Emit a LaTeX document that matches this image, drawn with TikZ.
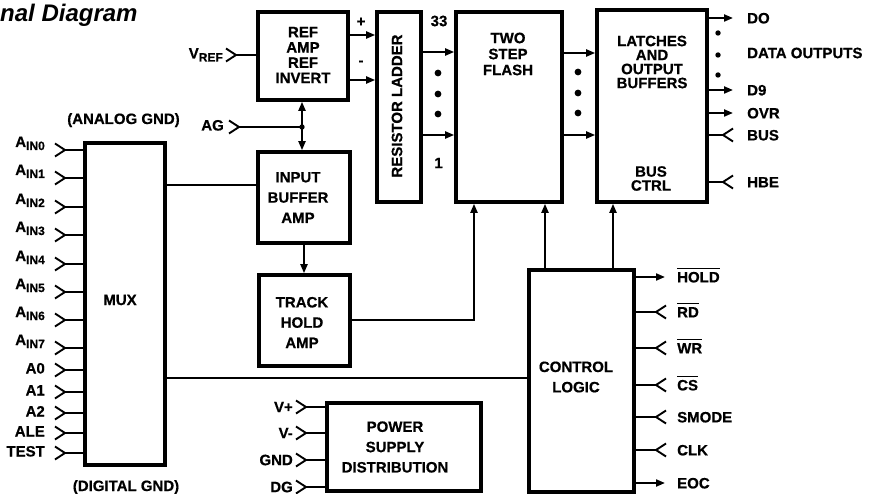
\documentclass[tikz,border=0pt]{standalone}
\usepackage{fontspec}
\setmainfont{Liberation Sans}[BoldFeatures={FakeBold=0.6}]
\usetikzlibrary{arrows.meta}
\newcommand{\pinsub}[1]{\raisebox{-3pt}{\fontsize{12}{12}\selectfont #1}}
\newcommand{\barsig}[1]{\setbox0\hbox{#1}\rlap{\rule[13pt]{\wd0}{1.3pt}}\box0}
\newcommand{\chevL}[1]{\draw[pin] (#1) ++(-10,-6.5) -- (#1) -- ++(-10,6.5);}
\newcommand{\chevR}[1]{\draw[pin] (#1) ++(10,-6.5) -- (#1) -- ++(10,6.5);}

\begin{document}
\begin{tikzpicture}[x=1pt,y=-1pt,>={Triangle[length=9pt,width=7pt]},
  blk/.style={draw,line width=3.6pt,inner sep=0pt},
  txt/.style={font=\fontsize{15}{20.3}\selectfont\bfseries,align=center,inner sep=0pt},
  lbl/.style={font=\fontsize{15}{15}\selectfont\bfseries,inner sep=0pt},
  wire/.style={line width=2pt},
  pin/.style={line width=1.9pt,line join=miter}]
  \useasboundingbox (0,0) rectangle (869,494);
  \node[font=\fontsize{24}{24}\selectfont\bfseries\itshape,anchor=base west,inner sep=0pt] (title) at (0,21.7) {nal Diagram};
  % blocks
  \node[blk,minimum width=90pt,minimum height=88pt] (ref) at (303,56) {};
  \node[blk,minimum width=44pt,minimum height=190pt] (ladder) at (399,107) {};
  \node[blk,minimum width=106pt,minimum height=190pt] (flash) at (509,107) {};
  \node[blk,minimum width=110pt,minimum height=192pt] (latch) at (652,106) {};
  \node[blk,minimum width=92pt,minimum height=91pt] (inbuf) at (304,197.5) {};
  \node[blk,minimum width=91pt,minimum height=91pt] (track) at (304.5,320.5) {};
  \node[blk,minimum width=80pt,minimum height=322pt] (mux) at (125,304) {};
  \node[blk,minimum width=105pt,minimum height=222pt] (ctrl) at (581.5,381) {};
  \node[blk,minimum width=154pt,minimum height=88pt] (power) at (404,447) {};
  % block texts
  \node[txt,font=\fontsize{15}{15.3}\selectfont\bfseries] (ref-t) at (303,55) {REF\\AMP\\REF\\INVERT};
  \node[lbl,rotate=90] (ladder-t) at (397,106) {RESISTOR LADDER};
  \node[txt,font=\fontsize{15}{16}\selectfont\bfseries] (flash-t) at (508,54) {TWO\\STEP\\FLASH};
  \node[txt,font=\fontsize{15}{14}\selectfont\bfseries] (latch-t) at (652,62) {LATCHES\\AND\\OUTPUT\\BUFFERS};
  \node[txt,font=\fontsize{15}{14}\selectfont\bfseries] (bus-t) at (651,178.5) {BUS\\CTRL};
  \node[txt] (inbuf-t) at (298,197.5) {INPUT\\BUFFER\\AMP};
  \node[txt] (track-t) at (302,322.5) {TRACK\\HOLD\\AMP};
  \node[lbl] (mux-t) at (120,300) {MUX};
  \node[txt] (ctrl-t) at (576,377) {CONTROL\\LOGIC};
  \node[txt] (power-t) at (395,447) {POWER\\SUPPLY\\DISTRIBUTION};
  \node[lbl,anchor=base] (agnd) at (123.5,124) {(ANALOG GND)};
  \node[lbl,anchor=base] (dgnd) at (126,491) {(DIGITAL GND)};
  % reference inputs
  \coordinate (vref) at (236,55);
  \chevL{vref}
  \draw[wire] (vref) -- (ref.west |- vref);
  \node[lbl,anchor=base east] (vref-l) at (223,58.5) {V\pinsub{REF}};
  \coordinate (agj) at (302,127);
  \coordinate (ag) at (239,127);
  \chevL{ag}
  \draw[wire] (ag) -- (agj);
  \fill (agj) circle (2.7pt);
  \node[lbl,anchor=base east] (ag-l) at (224,130.5) {AG};
  \draw[wire,<->] (agj |- ref.south) -- (agj |- inbuf.north);
  % ref amp to ladder to flash to latches
  \draw[wire,->] (ref.east |- 0,35) -- (ladder.west |- 0,35);
  \draw[wire,->] (ref.east |- 0,80) -- (ladder.west |- 0,80);
  \node[lbl] (plus) at (361,22) {+};
  \node[lbl] (minus) at (361,63) {-};
  \foreach \y in {52,135} \draw[wire,->] (ladder.east |- 0,\y) -- (flash.west |- 0,\y);
  \foreach \y in {73,94,114} \fill (438,\y) circle (3.4pt);
  \node[lbl] (tap33) at (439,21) {33};
  \node[lbl] (tap1) at (438.5,163) {1};
  \foreach \y in {53,135} \draw[wire,->] (flash.east |- 0,\y) -- (latch.west |- 0,\y);
  \foreach \y in {72,93,113} \fill (578,\y) circle (3.4pt);
  % data outputs
  \foreach \y/\t in {18/DO,90/D9,113/OVR} {
    \coordinate (q\t) at (733,\y);
    \draw[wire,->] (latch.east |- q\t) -- (q\t);
    \node[lbl,anchor=base west] (l\t) at (747,\y+5.4) {\t};
  }
  \foreach \y/\t in {135/BUS,182/HBE} {
    \coordinate (q\t) at (723,\y);
    \chevR{q\t}
    \draw[wire] (latch.east |- q\t) -- (q\t);
    \node[lbl,anchor=base west] (l\t) at (747,\y+5.4) {\t};
  }
  \foreach \y in {33,55,75} \fill (718,\y) circle (2.7pt);
  \node[lbl,anchor=west] (dout) at (747,53) {DATA OUTPUTS};
  % analog path
  \draw[wire] (mux.east |- 0,185) -- (inbuf.west |- 0,185);
  \draw[wire,->] (inbuf.south) -- (inbuf.south |- track.north);
  \draw[wire,->] (track.east |- 0,320) -| (474,0 |- flash.south);
  \draw[wire] (mux.east |- 0,378) -- (ctrl.west |- 0,378);
  \draw[wire,->] (545,0 |- ctrl.north) -- (545,0 |- flash.south);
  \draw[wire,->] (613,0 |- ctrl.north) -- (613,0 |- latch.south);
  % mux inputs
  \foreach \y/\n in {150/0,178/1,207/2,235/3,264/4,292/5,320/6,348/7} {
    \coordinate (a\n) at (65,\y);
    \chevL{a\n}
    \draw[wire] (a\n) -- (mux.west |- a\n);
    \node[lbl,anchor=base east] (la\n) at (45,\y-3) {A\pinsub{IN\n}};
  }
  \foreach \y/\t in {370/A0,392/A1,413/A2,433/ALE,453/TEST} {
    \coordinate (m\t) at (65,\y);
    \chevL{m\t}
    \draw[wire] (m\t) -- (mux.west |- m\t);
    \node[lbl,anchor=base east] (lm\t) at (45,\y+3.5) {\t};
  }
  % control pins
  \foreach \y/\t in {277/HOLD,483/EOC} {
    \coordinate (c\t) at (665,\y);
    \draw[wire,->] (ctrl.east |- c\t) -- (c\t);
  }
  \foreach \y/\t in {312/RD,348/WR,385/CS,417/SMODE,450/CLK} {
    \coordinate (c\t) at (656,\y);
    \chevR{c\t}
    \draw[wire] (ctrl.east |- c\t) -- (c\t);
  }
  \node[lbl,anchor=base west] (lHOLD) at (677,277+5.4) {\barsig{HOLD}};
  \node[lbl,anchor=base west] (lRD) at (677,312+5.4) {\barsig{RD}};
  \node[lbl,anchor=base west] (lWR) at (677,348+5.4) {\barsig{WR}};
  \node[lbl,anchor=base west] (lCS) at (677,385+5.4) {\barsig{CS}};
  \node[lbl,anchor=base west] (lSMODE) at (677,417+5.4) {SMODE};
  \node[lbl,anchor=base west] (lCLK) at (677,450+5.4) {CLK};
  \node[lbl,anchor=base west] (lEOC) at (677,483+5.4) {EOC};
  % power pins
  \foreach \y/\t in {407/V+,433/V-,460/GND,487/DG} {
    \coordinate (s\t) at (306,\y);
    \chevL{s\t}
    \draw[wire] (s\t) -- (power.west |- s\t);
    \node[lbl,anchor=east] (ls\t) at (293,\y) {\t};
  }
\end{tikzpicture}
\end{document}
